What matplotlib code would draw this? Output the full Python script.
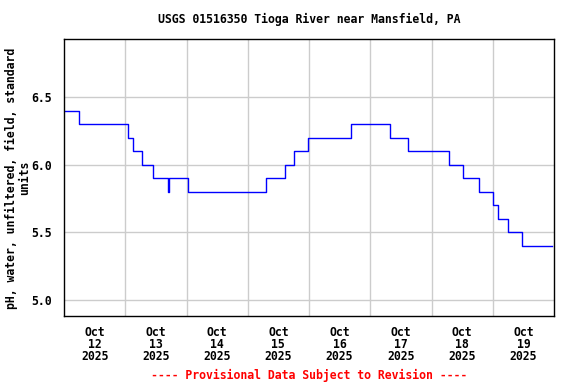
import matplotlib
matplotlib.use("Agg")
import matplotlib.pyplot as plt
from datetime import datetime, timedelta

# Hours since 2025-10-12 00:00 at which the reading changes
hours = [0.25, 5.7, 25.0, 27.2, 30.4, 35.0, 40.6, 41.3, 48.7, 79.0, 86.6, 90.2,
         95.6, 112.3, 127.7, 134.9, 150.9, 156.2, 162.6, 168.1, 170.2, 173.9,
         179.4, 191.1]
ph = [6.4, 6.3, 6.2, 6.1, 6.0, 5.9, 5.8, 5.9, 5.8, 5.9, 6.0, 6.1,
      6.2, 6.3, 6.2, 6.1, 6.0, 5.9, 5.8, 5.7, 5.6, 5.5,
      5.4, 5.4]
ytick_vals = [5.0, 5.5, 6.0, 6.5]
day_labels = ["12", "13", "14", "15", "16", "17", "18", "19"]

start = datetime(2025, 10, 12)
times = [start + timedelta(hours=h) for h in hours]

fig = plt.figure(figsize=(5.76, 3.84), dpi=100)
ax = fig.add_axes([64/576, 1-316/384, (554-64)/576, (316-39)/384])

font = dict(family="DejaVu Sans Mono", weight="bold", size=8.3)

ax.plot(times, ph, color="#0000ff", lw=1, drawstyle="steps-post")

ax.set_xlim(start, start + timedelta(days=8))
ax.set_ylim(4.882, 6.929)

# grid at midnights, labels at noon
ax.set_xticks([start + timedelta(days=i) for i in range(1, 8)], minor=False)
ax.set_xticklabels([])
ax.set_xticks([start + timedelta(days=i, hours=12) for i in range(8)], minor=True)
ax.set_xticklabels([f"Oct\n{d}\n2025" for d in day_labels], minor=True,
                   linespacing=0.92, **font)
ax.tick_params(axis="x", which="both", length=0, pad=7)

ax.set_yticks(ytick_vals)
ax.set_yticklabels([f"{v:.1f}" for v in ytick_vals], **font)
ax.tick_params(axis="y", length=0, pad=9)

ax.grid(True, which="major", color="#cccccc", lw=1)
ax.set_axisbelow(True)
for s in ax.spines.values():
    s.set_color("black")
    s.set_linewidth(1)

cx = 309/576
fig.text(cx, 1-19/384, "USGS 01516350 Tioga River near Mansfield, PA",
         ha="center", va="center", **font)
fig.text(18/576, 1-178/384, "pH, water, unfiltered, field, standard\nunits",
         ha="center", va="center", rotation=90, linespacing=0.92, **font)
fig.text(cx, 1-375/384, "---- Provisional Data Subject to Revision ----",
         ha="center", va="center", color="red", **font)

fig.savefig("out.png", dpi=100)
